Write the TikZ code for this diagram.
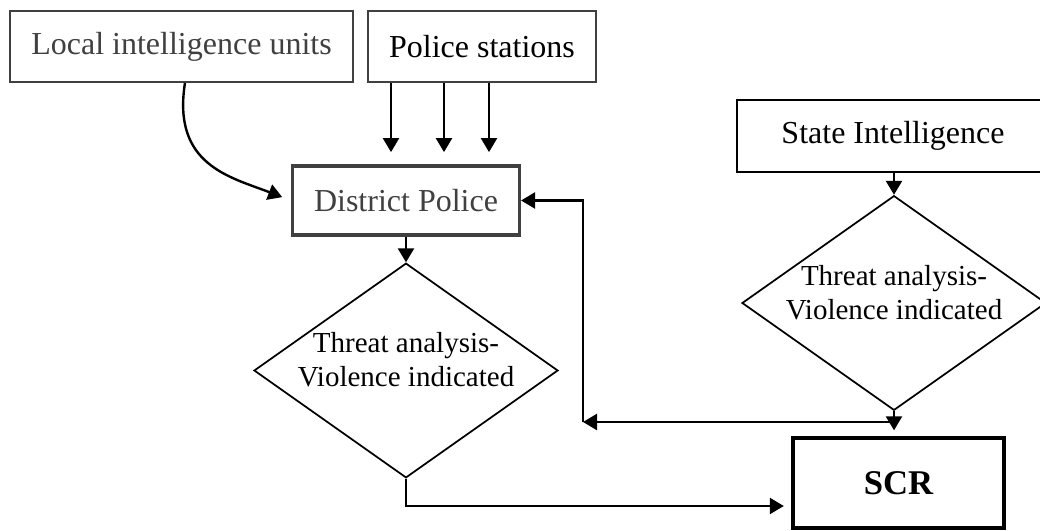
\documentclass[tikz,border=0pt]{standalone}
\usepackage{fontspec}
\setmainfont{Liberation Serif}
\usetikzlibrary{shapes.geometric,arrows.meta,calc}
\definecolor{dg}{HTML}{404040}
\begin{document}
\begin{tikzpicture}[x=0.75pt,y=-0.75pt,
  thinbox/.style={draw=dg,line width=1.5pt,rectangle,inner sep=0pt,minimum height=53.25pt,font=\fontsize{24pt}{28pt}\selectfont},
  dpbox/.style={draw=dg,line width=2.6pt,rectangle,inner sep=0pt,text=dg,minimum width=170pt,minimum height=52pt,font=\fontsize{24pt}{28pt}\selectfont},
  sibox/.style={draw=black,line width=1.6pt,rectangle,inner sep=0pt,minimum width=234pt,minimum height=54pt,font=\fontsize{24pt}{28pt}\selectfont},
  scrbox/.style={draw=black,line width=3pt,rectangle,inner sep=0pt,minimum width=158pt,minimum height=68pt,font=\fontsize{26pt}{30pt}\selectfont\bfseries},
  dia/.style={draw=black,line width=1.3pt,diamond,inner sep=0pt,minimum width=228pt,minimum height=161pt},
  dtext/.style={align=center,inner sep=0pt,font=\fontsize{21.75pt}{25.5pt}\selectfont},
  arr/.style={line width=1.8pt,-{Triangle[length=10.5pt,width=12pt]}}
]
\useasboundingbox (0,0) rectangle (1040,531);
\clip (0,0) rectangle (1040,531);
\fill[white] (0,0) rectangle (1040,531);

\node[thinbox,text=dg,minimum width=257.25pt] (lu) at (181.5,46.5) {Local intelligence units};
\node[thinbox,text=black,minimum width=171pt] (ps) at (482,46.5) {Police stations};
\node[dpbox] (dp) at (406,200.5) {District Police};
\node[sibox] (si) at (893,136) {State Intelligence};
\node[dia] (d1) at (406,370.5) {};
\node[dia] (d2) at (894,303) {};
\node[dtext] (t1) at ([yshift=8pt]d1.center) {Threat analysis-\\Violence indicated};
\node[dtext] (t2) at ([yshift=8pt]d2.center) {Threat analysis-\\Violence indicated};
\node[scrbox] (scr) at (898.5,483) {SCR};

\coordinate (j) at (d2.south |- 0,422);
\coordinate (c) at (583,422);
\coordinate (b) at (d1.south |- 0,506);

% Local intelligence -> District Police
\draw[arr,shorten >=7pt] ([xshift=2.6pt]lu.south) .. controls (172,165) and (230,177) .. (dp.west);
% Police stations -> District Police
\foreach \xx in {391,444,489}
  \draw[arr,shorten >=9pt] (ps.south -| \xx,0) -- (dp.north -| \xx,0);
% District Police -> diamond
\draw[arr] (dp.south) -- (d1.north);
% State Intelligence -> diamond
\draw[arr] (d2.north |- si.south) -- (d2.north);
% diamond -> SCR
\draw[arr,shorten >=4pt] (d2.south) -- (d2.south |- scr.north);
% feedback to District Police
\draw[arr] (j) -- (c);
\draw[arr] (c) |- (dp.east);
% left diamond -> SCR
\draw[arr,shorten >=5.5pt] (d1.south) -- (b) -- (b -| scr.west);
\end{tikzpicture}
\end{document}
